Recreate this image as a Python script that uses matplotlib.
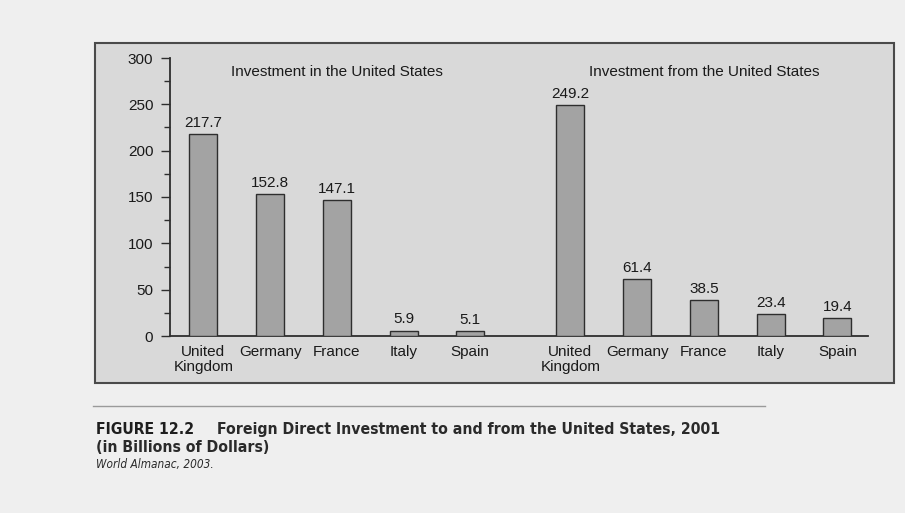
import matplotlib
matplotlib.use("Agg")
import matplotlib.pyplot as plt
import numpy as np
from matplotlib.patches import Rectangle
from matplotlib.lines import Line2D

# ---- data ----
categories = ["United\nKingdom", "Germany", "France", "Italy", "Spain"]
investment_in_us = [217.7, 152.8, 147.1, 5.9, 5.1]
investment_from_us = [249.2, 61.4, 38.5, 23.4, 19.4]
group_titles = ["Investment in the United States", "Investment from the United States"]
yticks = [0, 50, 100, 150, 200, 250, 300]

W, H = 905, 513
fig = plt.figure(figsize=(W / 100, H / 100), dpi=100)
fig.patch.set_facecolor("#efefef")

def fx(x):
    return x / W

def fy(y):
    return 1 - y / H

# gray panel
panel = Rectangle((fx(95), fy(383)), fx(894) - fx(95), fy(43) - fy(383),
                  transform=fig.transFigure, facecolor="#d9d9d9",
                  edgecolor="#4a4a4a", linewidth=1.5, zorder=0)
fig.add_artist(panel)

plt.rcParams['font.family'] = ['Liberation Sans', 'DejaVu Sans']
FS = 11

ax = fig.add_axes([fx(170), fy(336), fx(868) - fx(170), fy(58) - fy(336)])
ax.set_facecolor("none")

pos_left = np.arange(len(categories))
pos_right = np.arange(len(categories)) + len(categories) + 0.5
bar_kw = dict(width=0.42, color="#a3a3a3", edgecolor="#2e2e2e", linewidth=1.0, zorder=3)
b1 = ax.bar(pos_left, investment_in_us, **bar_kw)
b2 = ax.bar(pos_right, investment_from_us, **bar_kw)
for b in (b1, b2):
    ax.bar_label(b, fmt="%.1f", padding=3, fontsize=FS, color="#1a1a1a")

ax.set_xlim(-0.5, pos_right[-1] + 0.46)
ax.set_ylim(0, 300)
ax.set_yticks(yticks)
ax.set_yticks(np.arange(25, 300, 50), minor=True)
ax.set_xticks(np.concatenate([pos_left, pos_right]))
ax.set_xticklabels(categories + categories, fontsize=FS, color="#1a1a1a",
                   linespacing=1.05)
ax.tick_params(axis="x", length=0, pad=6.5)
ax.tick_params(axis="y", which="major", length=6.5, width=1.0, pad=5.5,
               labelsize=FS, labelcolor="#1a1a1a", color="#2e2e2e")
ax.tick_params(axis="y", which="minor", length=4.3, width=1.0, color="#2e2e2e")
for s in ("top", "right"):
    ax.spines[s].set_visible(False)
for s in ("left", "bottom"):
    ax.spines[s].set_linewidth(1.3)
    ax.spines[s].set_color("#2e2e2e")

ax.text(pos_left.mean(), 285, group_titles[0], ha="center", va="center",
        fontsize=FS, color="#1a1a1a")
ax.text(pos_right.mean(), 285, group_titles[1], ha="center", va="center",
        fontsize=FS, color="#1a1a1a")

# rule above caption
fig.add_artist(Line2D([fx(93), fx(765)], [fy(406), fy(406)], transform=fig.transFigure,
                      color="#9a9a9a", linewidth=1.0))

cap_font = ['DejaVu Sans']
CFS = 11.3
fig.text(fx(96), fy(434), "FIGURE 12.2", fontsize=CFS, fontweight="bold",
         fontstretch="condensed", family=cap_font, color="#1e1e1e",
         va="baseline", ha="left")
fig.text(fx(217), fy(434), "Foreign Direct Investment to and from the United States, 2001",
         fontsize=CFS, fontweight="bold", fontstretch="condensed", family=cap_font,
         color="#2a2a2a", va="baseline", ha="left")
fig.text(fx(96), fy(452), "(in Billions of Dollars)", fontsize=CFS, fontweight="bold",
         fontstretch="condensed", family=cap_font, color="#2a2a2a", va="baseline", ha="left")
fig.text(fx(96), fy(468), "World Almanac, 2003.", fontsize=8.5, style="italic",
         fontstretch="condensed", family=cap_font, color="#2a2a2a", va="baseline", ha="left")

fig.savefig("out.png", dpi=100, facecolor=fig.get_facecolor())
